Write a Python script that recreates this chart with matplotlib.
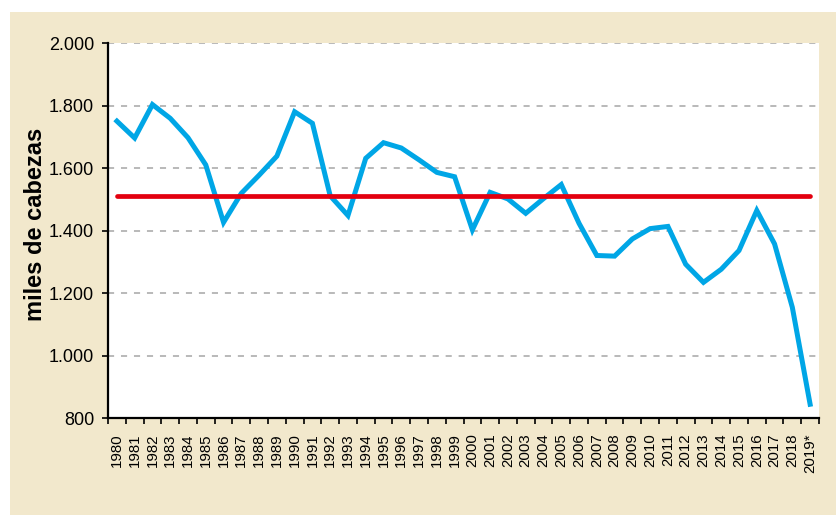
import numpy as np
import matplotlib
matplotlib.use("Agg")
from matplotlib import pyplot as plt
from matplotlib.patches import Rectangle
from matplotlib.ticker import FuncFormatter, FixedLocator

plt.rcParams['font.family'] = ['Liberation Sans', 'DejaVu Sans']

# ─── data (miles de cabezas) ────────────────────────────────────────────────
years = [str(y) for y in range(1980, 2019)] + ["2019*"]
heads = [1750, 1696, 1803, 1759, 1697, 1610, 1426, 1519, 1577, 1638,
         1780, 1743, 1511, 1448, 1631, 1681, 1664, 1626, 1586, 1572,
         1402, 1522, 1501, 1455, 1502, 1547, 1423, 1320, 1318, 1373,
         1406, 1413, 1292, 1234, 1276, 1336, 1464, 1357, 1154, 844]
average = 1512

BEIGE = "#F2E8CC"
BLUE = "#00A6E6"
RED = "#E3000F"

fig = plt.figure(figsize=(8.36, 5.15), dpi=100, facecolor="white")
fig.patches.append(Rectangle((10 / 836, 0), 1, 1 - 12 / 515,
                             transform=fig.transFigure, facecolor=BEIGE,
                             edgecolor="none", zorder=-10))

ax = fig.add_axes([108 / 836, 1 - 418 / 515, (819 - 108) / 836, (418 - 43) / 515])
ax.set_facecolor("white")

x = np.arange(len(years))
ax.plot(x, heads, color=BLUE, lw=3.6, solid_joinstyle="miter", zorder=3)
ax.plot([x[0], x[-1]], [average, average], color=RED, lw=3.4,
        solid_capstyle="round", zorder=4)

# y axis
ax.set_ylim(800, 2000)
ax.set_yticks(np.arange(800, 2001, 200))
ax.yaxis.set_major_formatter(FuncFormatter(lambda v, p: f"{int(v):,}".replace(",", ".")))
ax.tick_params(axis="y", length=4, width=1.2, pad=6, labelsize=13, colors="black")
for v in range(1000, 2001, 200):
    ax.axhline(v, color="#A6A6A6", lw=1.1, ls=(0, (4, 4.5)), zorder=1)

# x axis: labels at centres, ticks at category boundaries
ax.set_xlim(-0.5, len(years) - 0.5)
ax.set_xticks(x)
ax.set_xticklabels(years, rotation=90, fontsize=10.8)
ax.tick_params(axis="x", which="major", length=0, pad=11)
ax.xaxis.set_minor_locator(FixedLocator(np.arange(-0.5, len(years), 1.0)))
ax.tick_params(axis="x", which="minor", length=4, width=1.2)

for side in ("top", "right"):
    ax.spines[side].set_visible(False)
for side in ("left", "bottom"):
    ax.spines[side].set_linewidth(1.6)

fig.text(36 / 836, 1 - 224 / 515, "miles de cabezas", rotation=90,
         ha="center", va="center", fontsize=17, fontweight="bold")

fig.savefig("out.png", dpi=100, facecolor="white")
